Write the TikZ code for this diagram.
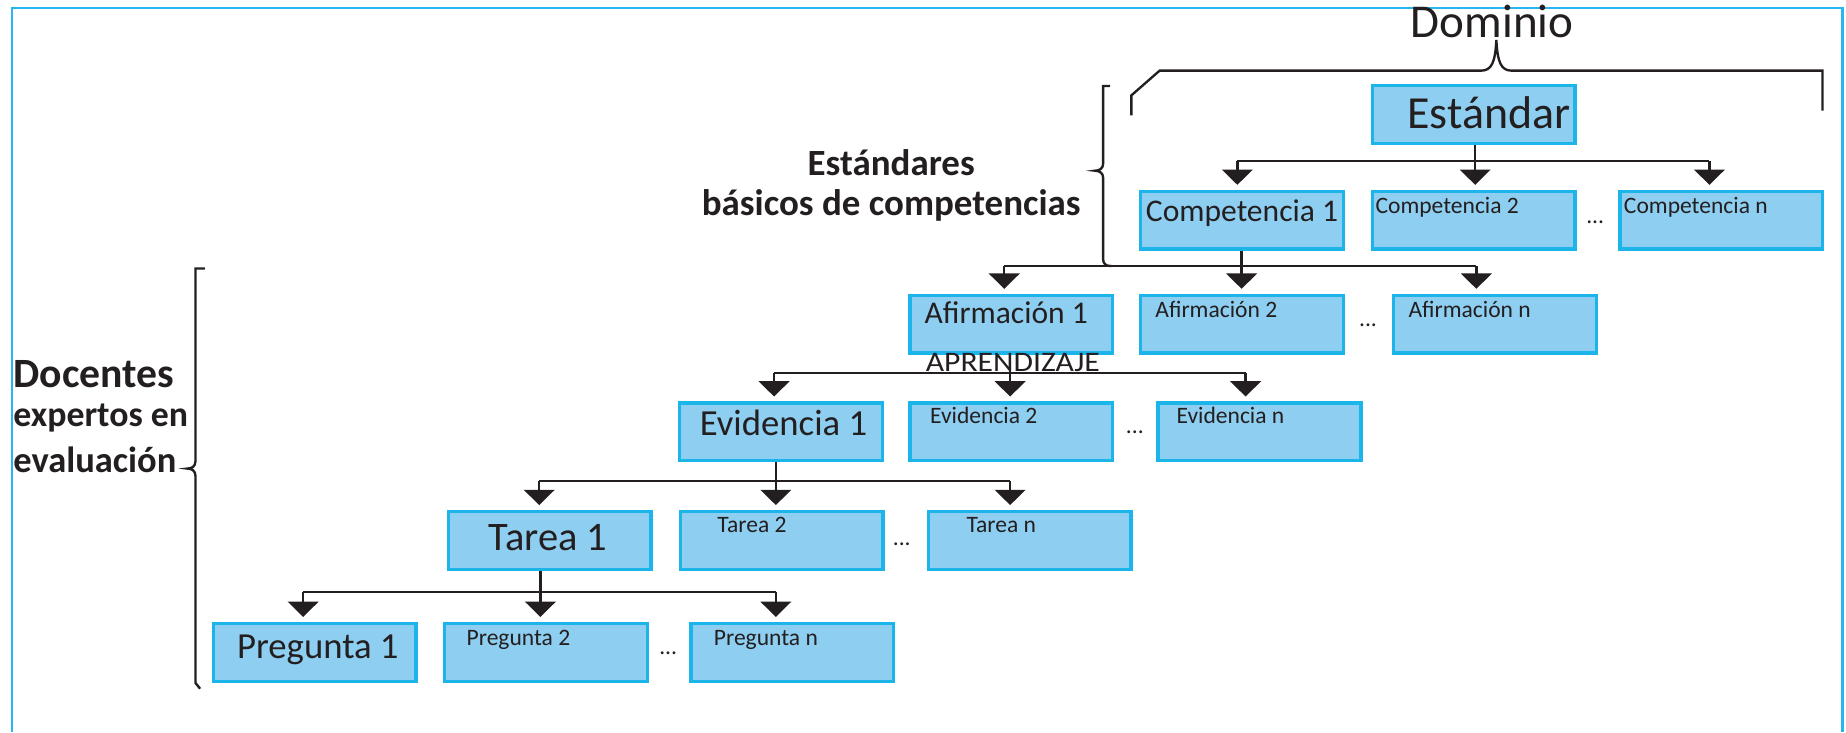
\documentclass[tikz,border=0pt]{standalone}
\usepackage{fontspec}
\setmainfont{Carlito}
\usetikzlibrary{arrows.meta}
\definecolor{boxfill}{RGB}{142,206,240}
\definecolor{boxline}{RGB}{27,181,234}
\definecolor{ink}{RGB}{35,31,32}
\definecolor{framec}{RGB}{41,182,236}
\begin{document}
\begin{tikzpicture}[x=0.5pt,y=-0.5pt,
  box/.style={draw=boxline, fill=boxfill, line width=1.4pt, inner sep=0pt,
              minimum width=86.1pt, minimum height=24.6pt},
  conn/.style={draw=ink, line width=1pt},
  arr/.style={conn, -{Triangle[width=13pt,length=6.5pt]}, shorten >=2pt},
  txt/.style={anchor=base west, inner sep=0pt, text=ink},
  small/.style={txt, font=\fontsize{10}{12}\selectfont},
  brace/.style={draw=ink, line width=1pt},
  side/.style={anchor=base, inner sep=0pt, text=ink},
]
\useasboundingbox (0,0) rectangle (1568,622);
% frame
\draw[framec, line width=0.9pt] (10,622) -- (10,7) -- (1565,7) -- (1565,622);

% boxes
\node[box] (est) at (1251.7,97.5) {};
\node[box] (c1) at (1055,187) {};
\node[box] (c2) at (1251.7,187) {};
\node[box] (cn) at (1462,187) {};
\node[box] (a1) at (859,275.3) {};
\node[box] (a2) at (1055,275.3) {};
\node[box] (an) at (1270,275.3) {};
\node[box] (e1) at (663.5,366.8) {};
\node[box] (e2) at (859,366.8) {};
\node[box] (en) at (1069.8,366.8) {};
\node[box] (t1) at (466.9,459) {};
\node[box] (t2) at (664,459) {};
\node[box] (tn) at (874.5,459) {};
\node[box] (p1) at (267.2,554) {};
\node[box] (p2) at (463.9,554) {};
\node[box] (pn) at (673,554) {};

% texts in boxes
\node[txt, font=\fontsize{19.5}{22}\selectfont] (t-est) at (1195,109) {Estándar};
\node[txt, font=\fontsize{13.4}{16}\selectfont] (t-c1) at (973,188) {Competencia 1};
\node[small] (t-c2) at (1168,181) {Competencia 2};
\node[small] (t-cn) at (1379,181) {Competencia n};
\node[txt, font=\fontsize{13.4}{16}\selectfont] (t-a1) at (785,275) {Afirmación 1};
\node[small] (t-a2) at (981,270) {Afirmación 2};
\node[small] (t-an) at (1196,270) {Afirmación n};
\node[txt, font=\fontsize{15.6}{18}\selectfont] (t-e1) at (594,370) {Evidencia 1};
\node[small] (t-e2) at (789.6,360) {Evidencia 2};
\node[small] (t-en) at (999,360) {Evidencia n};
\node[txt, font=\fontsize{17.2}{20}\selectfont] (t-t1) at (414.5,468) {Tarea 1};
\node[small] (t-t2) at (609,452.5) {Tarea 2};
\node[small] (t-tn) at (820.6,452.5) {Tarea n};
\node[txt, font=\fontsize{15.6}{18}\selectfont] (t-p1) at (201,559) {Pregunta 1};
\node[small] (t-p2) at (396,548) {Pregunta 2};
\node[small] (t-pn) at (606,548) {Pregunta n};

% dots
\node[small] (d1) at (1347,190) {...};
\node[small] (d2) at (1154,277.5) {...};
\node[small] (d3) at (956,368) {...};
\node[small] (d4) at (758,463) {...};
\node[small] (d5) at (559.6,556) {...};

% bus coordinates
\coordinate (b1a) at (1051,137);  \coordinate (b1b) at (1253,137);  \coordinate (b1c) at (1452,137);
\coordinate (b2a) at (853,226);   \coordinate (b2b) at (1054.6,226); \coordinate (b2c) at (1254,226);
\coordinate (b3a) at (657.5,317); \coordinate (b3b) at (858,317);   \coordinate (b3c) at (1058,317);
\coordinate (b4a) at (458,408.6); \coordinate (b4b) at (659,408.6); \coordinate (b4c) at (858,408.6);
\coordinate (b5a) at (257.5,503); \coordinate (b5b) at (459,503);   \coordinate (b5c) at (659,503);

% level 1
\draw[conn] (b1b |- est.south) -- (b1b);
\draw[conn] (b1a) -- (b1c);
\draw[arr] (b1a) -- (b1a |- c1.north);
\draw[arr] (b1b) -- (b1b |- c2.north);
\draw[arr] (b1c) -- (b1c |- cn.north);
% level 2
\draw[conn] (b2b |- c1.south) -- (b2b);
\draw[conn] (b2a) -- (b2c);
\draw[arr] (b2a) -- (b2a |- a1.north);
\draw[arr] (b2b) -- (b2b |- a2.north);
\draw[arr] (b2c) -- (b2c |- an.north);
% level 3
\draw[conn] (b3b |- a1.south) -- (b3b);
\draw[conn] (b3a) -- (b3c);
\draw[arr] (b3a) -- (b3a |- e1.north);
\draw[arr] (b3b) -- (b3b |- e2.north);
\draw[arr] (b3c) -- (b3c |- en.north);
% level 4
\draw[conn] (b4b |- e1.south) -- (b4b);
\draw[conn] (b4a) -- (b4c);
\draw[arr] (b4a) -- (b4a |- t1.north);
\draw[arr] (b4b) -- (b4b |- t2.north);
\draw[arr] (b4c) -- (b4c |- tn.north);
% level 5
\draw[conn] (b5b |- t1.south) -- (b5b);
\draw[conn] (b5a) -- (b5c);
\draw[arr] (b5a) -- (b5a |- p1.north);
\draw[arr] (b5b) -- (b5b |- p2.north);
\draw[arr] (b5c) -- (b5c |- pn.north);

% APRENDIZAJE
\node[txt, font=\fontsize{12}{14}\selectfont] (apr) at (786,315.7) {\scalebox{1.12}[1]{APRENDIZAJE}};

% Dominio
\node[txt, font=\fontsize{20}{22}\selectfont] (dom) at (1198,31.7) {Dominio};
\draw[brace] (961,98) -- (961,81) -- (985,60) -- (1258,60)
  .. controls (1267,60) and (1270,53) .. (1271,34)
  .. controls (1272,53) and (1275,60) .. (1284,60) -- (1548,60) -- (1548,94);

% Estandares label + brace
\node[side, font=\bfseries\fontsize{15.7}{18}\selectfont] (l-est1) at (757,149) {Estándares};
\node[side, font=\bfseries\fontsize{15.7}{18}\selectfont] (l-est2) at (757,183) {básicos de competencias};
\draw[brace] (943,73) -- (937,73) -- (937,139)
  .. controls (937,143) and (934,145) .. (930,145)
  .. controls (934,145) and (937,147) .. (937,151) -- (937,220)
  .. controls (937,224) and (939,226) .. (944,226);

% Docentes label + brace
\node[txt, font=\bfseries\fontsize{17.7}{20}\selectfont] (l-doc1) at (11,329) {Docentes};
\node[txt, font=\bfseries\fontsize{15.2}{18}\selectfont] (l-doc2) at (11,362) {expertos en};
\node[txt, font=\bfseries\fontsize{15.5}{18}\selectfont] (l-doc3) at (11,401) {evaluación};
\draw[brace] (174,228) -- (166,228) -- (166,392)
  .. controls (166,396) and (163,398) .. (159,398)
  .. controls (163,398) and (166,400) .. (166,404) -- (166,580) -- (170,585);
\end{tikzpicture}
\end{document}
